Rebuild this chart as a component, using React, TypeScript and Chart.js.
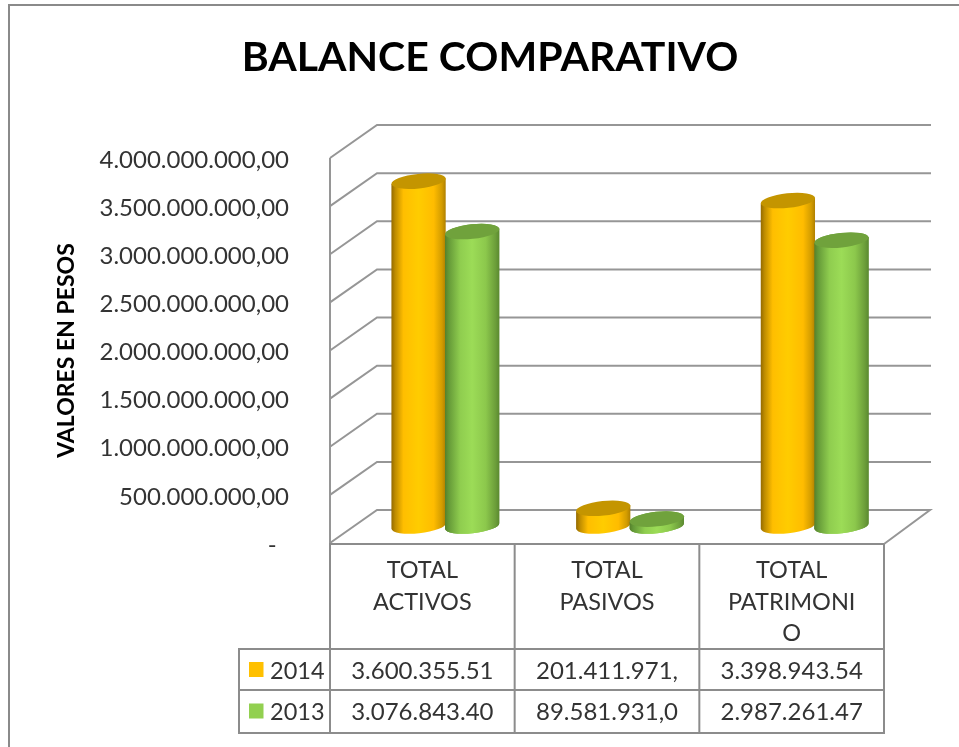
import React, { useEffect, useRef } from "react";
import { Chart, registerables, BarController, BarElement } from "chart.js";

Chart.register(...registerables);

const categories = [["TOTAL", "ACTIVOS"], ["TOTAL", "PASIVOS"], ["TOTAL", "PATRIMONI", "O"]];
const values2014 = [3600355510, 201411971, 3398943540];
const values2013 = [3076843400, 89581931, 2987261470];
const tableRow2014 = ["3.600.355.51", "201.411.971,", "3.398.943.54"];
const tableRow2013 = ["3.076.843.40", "89.581.931,0", "2.987.261.47"];
const yTickLabels = [
  "-\u00a0\u00a0", "500.000.000,00", "1.000.000.000,00", "1.500.000.000,00", "2.000.000.000,00",
  "2.500.000.000,00", "3.000.000.000,00", "3.500.000.000,00", "4.000.000.000,00",
];
const COLOR_2014 = "#FFC000";
const COLOR_2013 = "#92D050";
const FONT = "Lato, Carlito, 'Open Sans', sans-serif";
const DEPTH_X = 47;
const DEPTH_Y = 33;
const LINE = "#969696";

type Shade = { stops: [number, string][]; top: string };
const shades: Record<string, Shade> = {
  [COLOR_2014]: {
    stops: [[0, "#946A00"], [0.07, "#BE8C00"], [0.22, "#FFBE00"], [0.5, "#FFCC00"], [0.78, "#FFBC00"], [0.93, "#D29C00"], [1, "#B08000"]],
    top: "#C49500",
  },
  [COLOR_2013]: {
    stops: [[0, "#55802C"], [0.07, "#659A38"], [0.28, "#8FCD4F"], [0.5, "#9CDC57"], [0.75, "#8CC84C"], [0.93, "#6C9E3A"], [1, "#5B8A30"]],
    top: "#70A23C",
  },
};

class CylinderElement extends BarElement {
  static id = "cylinder";
  draw(ctx: CanvasRenderingContext2D) {
    const { x, y, base, width } = (this as any).getProps(["x", "y", "base", "width"], true);
    const shade = shades[(this as any).options.backgroundColor] || shades[COLOR_2014];
    const cx = x + 23;
    const rx = width / 2 + 0.5;
    const ry = 7.3;
    const rot = (-6 * Math.PI) / 180;
    const top = y - 15.3;
    const bottom = base - 17;
    const dx = rx * Math.cos(rot);
    const dy = rx * Math.sin(rot);
    const g = ctx.createLinearGradient(cx - dx, 0, cx + dx, 0);
    shade.stops.forEach(([p, c]) => g.addColorStop(p, c));
    ctx.save();
    ctx.beginPath();
    ctx.moveTo(cx - dx, top - dy);
    ctx.lineTo(cx - dx, bottom - dy);
    ctx.ellipse(cx, bottom, rx, ry, rot, Math.PI, 0, true);
    ctx.lineTo(cx + dx, top + dy);
    ctx.closePath();
    ctx.fillStyle = g;
    ctx.fill();
    ctx.beginPath();
    ctx.ellipse(cx, top, rx, ry, rot, 0, Math.PI * 2);
    ctx.fillStyle = shade.top;
    ctx.fill();
    ctx.restore();
  }
}

class CylinderController extends BarController {
  static id = "cylinderBar";
  static defaults = { ...(BarController as any).defaults, dataElementType: "cylinder" };
  static overrides = (BarController as any).overrides;
}

Chart.register(CylinderElement as any, CylinderController as any);

const scenePlugin = {
  id: "scene",
  beforeDraw(chart: any) {
    const { ctx, width, height } = chart;
    ctx.save();
    ctx.fillStyle = "#fff";
    ctx.fillRect(0, 0, width, height);
    ctx.strokeStyle = "#8a8a8a";
    ctx.lineWidth = 2;
    ctx.beginPath();
    ctx.moveTo(9, height);
    ctx.lineTo(9, 5);
    ctx.lineTo(width, 5);
    ctx.stroke();
    ctx.restore();
  },
  beforeDatasetsDraw(chart: any) {
    const { ctx, chartArea: a, scales } = chart;
    const y = scales.y;
    const x = scales.x;
    ctx.save();
    ctx.strokeStyle = LINE;
    ctx.lineWidth = 2;
    ctx.lineJoin = "miter";
    const backRight = 931;
    y.ticks.forEach((t: any) => {
      const py = y.getPixelForValue(t.value);
      ctx.beginPath();
      ctx.moveTo(a.left, py);
      ctx.lineTo(a.left + DEPTH_X, py - DEPTH_Y);
      ctx.lineTo(t.value === 0 ? backRight - 1 : backRight, py - DEPTH_Y);
      if (t.value === 0) ctx.lineTo(a.right, py + 1);
      ctx.stroke();
    });
    ctx.beginPath();
    ctx.moveTo(a.left, a.top);
    ctx.lineTo(a.left, a.bottom);
    ctx.stroke();

    // data table
    const rowTop = a.bottom + 1;
    const rowA = 649;
    const rowB = 690;
    const rowC = 733;
    const legendLeft = 239;
    const edges = [a.left, x.getPixelForValue(1) - (x.getPixelForValue(1) - x.getPixelForValue(0)) / 2,
      x.getPixelForValue(2) - (x.getPixelForValue(2) - x.getPixelForValue(1)) / 2, a.right];
    ctx.strokeStyle = "#8c8c8c";
    ctx.beginPath();
    edges.forEach((e: number) => { ctx.moveTo(e, rowTop); ctx.lineTo(e, rowC); });
    ctx.moveTo(a.left - 1, rowTop); ctx.lineTo(a.right, rowTop);
    [rowA, rowB, rowC].forEach((r) => { ctx.moveTo(legendLeft, r); ctx.lineTo(a.right + 1, r); });
    ctx.moveTo(legendLeft, rowA - 1); ctx.lineTo(legendLeft, rowC + 1);
    ctx.stroke();

    ctx.textBaseline = "middle";
    const rows: [string, string[], string, number, number][] = [
      ["2014", tableRow2014, COLOR_2014, 671.5, 669.5],
      ["2013", tableRow2013, COLOR_2013, 712, 711],
    ];
    rows.forEach(([name, cells, color, cy, sq]) => {
      ctx.fillStyle = color;
      ctx.fillRect(249, sq - 7.5, 14.5, 15);
      ctx.fillStyle = "#333";
      ctx.textAlign = "left";
      ctx.font = `23.5px ${FONT}`;
      ctx.fillText(name, 270, cy);
      ctx.textAlign = "center";
      ctx.font = `24px ${FONT}`;
      cells.forEach((c, i) => ctx.fillText(c, x.getPixelForValue(i), cy));
    });
    ctx.restore();
  },
  afterDatasetsDraw(chart: any) {
    // the 2013 cylinder sits in front of the 2014 one where they touch
    chart.getDatasetMeta(1).controller.draw();
  },
};

export default function App() {
  const ref = useRef<HTMLCanvasElement>(null);
  useEffect(() => {
    const chart = new Chart(ref.current!, {
      type: "cylinderBar" as any,
      data: {
        labels: categories as any,
        datasets: [
          { label: "2014", data: values2014, backgroundColor: COLOR_2014, clip: false, barPercentage: 1, categoryPercentage: 0.58 } as any,
          { label: "2013", data: values2013, backgroundColor: COLOR_2013, clip: false, barPercentage: 1, categoryPercentage: 0.58 } as any,
        ],
      },
      options: {
        responsive: false,
        animation: false,
        layout: { padding: { left: 21, right: 0, top: 0, bottom: 0 } },
        plugins: {
          legend: { display: false },
          tooltip: { enabled: false },
          title: {
            display: true,
            text: "BALANCE COMPARATIVO",
            color: "#000",
            font: { family: FONT, size: 41, weight: "bold", lineHeight: 1.2 },
            padding: { top: 33, bottom: 75.8 },
          },
        },
        scales: {
          x: {
            type: "category",
            position: "bottom",
            grid: { display: false },
            border: { display: false },
            ticks: {
              color: "#333",
              font: { family: FONT, size: 23.5, lineHeight: 1.36 },
              padding: 3,
              maxRotation: 0,
              minRotation: 0,
              autoSkip: false,
            },
            afterFit: (s: any) => { s.height = 204; },
          },
          y: {
            type: "linear",
            position: "left",
            min: 0,
            max: 4000000000,
            grid: { display: false },
            border: { display: false },
            ticks: {
              stepSize: 500000000,
              color: "#333",
              font: { family: FONT, size: 24 },
              padding: 33,
              labelOffset: 2,
              callback: (_v: any, i: number) => yTickLabels[i],
            },
            title: {
              display: true,
              text: "VALORES EN PESOS",
              color: "#000",
              font: { family: FONT, size: 23, weight: "bold", lineHeight: 1.2 },
              padding: { top: 32, bottom: 0 },
            },
            afterFit: (s: any) => { s.width = 309; },
          },
          y2: {
            type: "linear",
            position: "right",
            grid: { display: false },
            border: { display: false },
            ticks: { display: false },
            afterFit: (s: any) => { s.width = 75; },
          },
        },
      } as any,
      plugins: [scenePlugin as any],
    });
    return () => chart.destroy();
  }, []);
  return (
    <div style={{ position: "absolute", left: 0, top: 0, width: 959, height: 747 }}>
      <canvas ref={ref} width={959} height={747} style={{ display: "block" }} />
    </div>
  );
}
